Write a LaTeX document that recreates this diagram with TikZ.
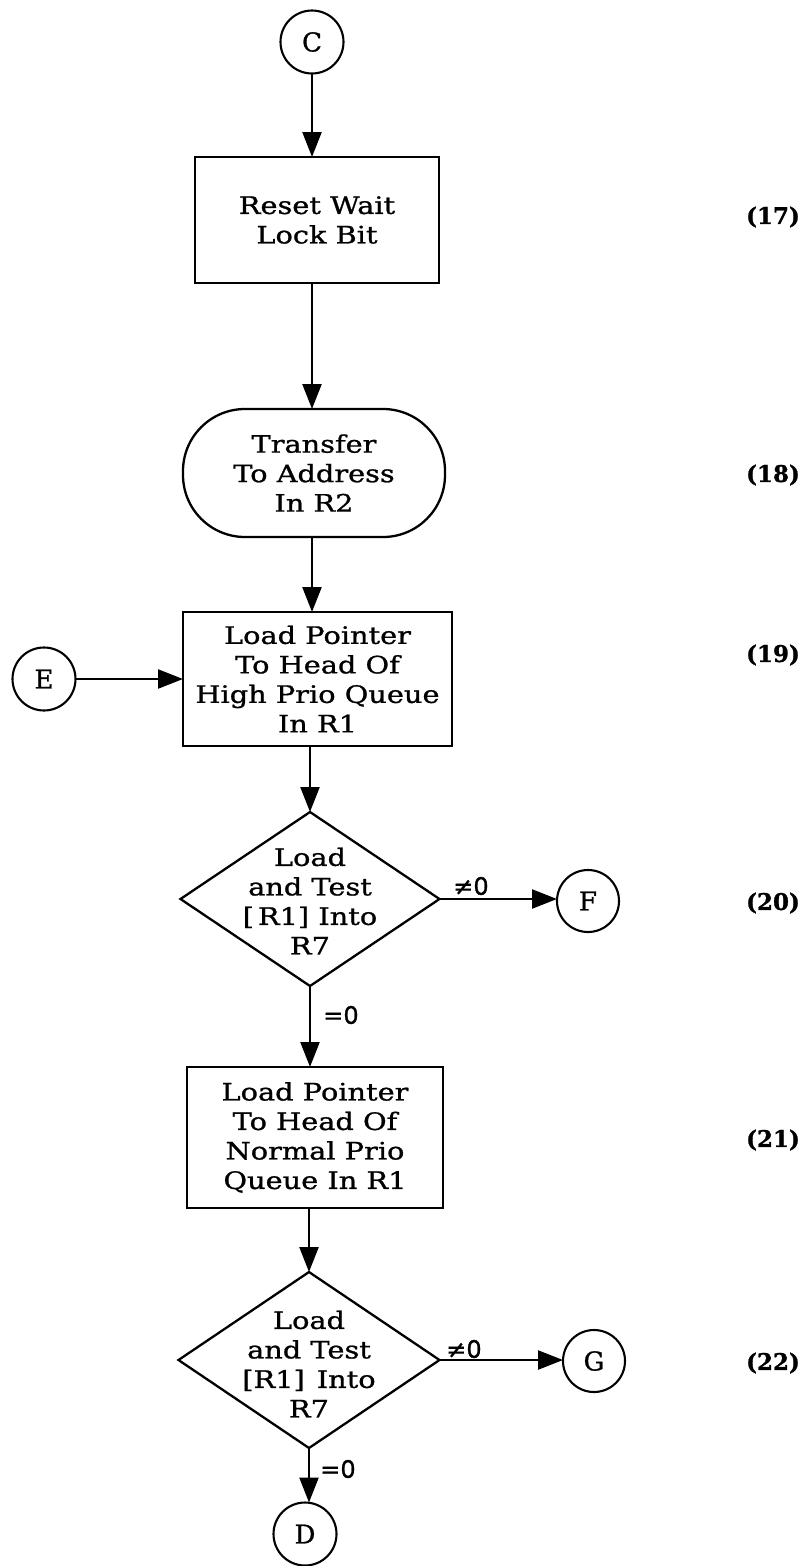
\documentclass[tikz,border=0pt]{standalone}
\usepackage{fontspec}
\setmainfont[FakeStretch=1.2,FakeBold=1]{DejaVu Serif}
\newfontfamily\plainserif[FakeBold=1]{DejaVu Serif}
\newfontfamily\labelsans[FakeBold=1]{DejaVu Sans}
\usetikzlibrary{arrows.meta,shapes.geometric}
\begin{document}
\begin{tikzpicture}[x=1pt,y=-1pt,
  every node/.style={inner sep=0pt, outer sep=0pt},
  boxtxt/.style={font=\fontsize{24}{29.5}\selectfont, align=center},
  procbox/.style={draw, line width=2.3pt, rectangle, boxtxt},
  termbox/.style={draw, line width=2.3pt, rectangle, rounded corners=62pt, boxtxt},
  decbox/.style={draw, line width=2.3pt, diamond},
  conn/.style={draw, line width=2.1pt, circle, minimum size=63pt, font=\plainserif\fontsize{26}{26}\selectfont},
  arr/.style={line width=2.4pt, -{Triangle[length=25pt,width=19pt]}},
  steplabel/.style={font=\plainserif\bfseries\fontsize{23}{23}\selectfont},
  condlabel/.style={font=\labelsans\fontsize{24}{24}\selectfont},
]
\useasboundingbox (0,0) rectangle (808,1566);

\node[conn] (C) at (312,42) {C};
\node[procbox, minimum width=244pt, minimum height=126pt] (b17) at (317,220) {Reset Wait\\Lock Bit};
\node[termbox, minimum width=262pt, minimum height=128pt] (t18) at (314,473) {Transfer\\To Address\\In R2};
\node[procbox, minimum width=269pt, minimum height=134pt] (b19) at (317.5,679) {Load Pointer\\To Head Of\\High Prio Queue\\In R1};
\node[conn] (E) at (44,679) {E};
\node[decbox, minimum width=259pt, minimum height=174pt] (d20) at (310,899) {};
\node[boxtxt] (d20t) at (310,901) {Load\\and Test\\{[}\,R1{]} Into\\R7};
\node[conn, minimum size=62pt] (F) at (588,901) {F};
\node[procbox, minimum width=256pt, minimum height=141pt] (b21) at (315,1137.5) {Load Pointer\\To Head Of\\Normal Prio\\Queue In R1};
\node[decbox, minimum width=261pt, minimum height=176pt] (d22) at (309,1360) {};
\node[boxtxt] (d22t) at (309,1364) {Load\\and Test\\{[}R1{]}\enspace Into\\R7};
\node[conn, minimum size=62pt] (G) at (594,1361) {G};
\node[conn] (D) at (305,1534) {D};

\node[steplabel] (n17) at (773,217) {(17)};
\node[steplabel] (n18) at (773,475) {(18)};
\node[steplabel] (n19) at (773,655) {(19)};
\node[steplabel] (n20) at (773,903) {(20)};
\node[steplabel] (n21) at (773,1140) {(21)};
\node[steplabel] (n22) at (773,1363) {(22)};

\node[condlabel] (ne20) at (471,886) {≠0};
\node[condlabel] (eq20) at (341,1015) {=0};
\node[condlabel] (ne22) at (464,1349) {≠0};
\node[condlabel] (eq22) at (338,1469) {=0};

\draw[arr] (C) -- (C |- b17.north);
\draw[arr] (b17.south -| C) -- (C |- t18.north);
\draw[arr] (t18.south -| C) -- (C |- b19.north);
\draw[arr] (E) -- (E -| b19.west);
\draw[arr] (b19.south -| d20.north) -- (d20.north);
\draw[arr] (d20.east) -- (d20.east -| F.west);
\draw[arr] (d20.south) -- (d20.south |- b21.north);
\draw[arr] (b21.south -| d22.north) -- (d22.north);
\draw[arr] (d22.east) -- (d22.east -| G.west);
\draw[arr] (d22.south) -- (d22.south |- D.north);
\end{tikzpicture}
\end{document}
